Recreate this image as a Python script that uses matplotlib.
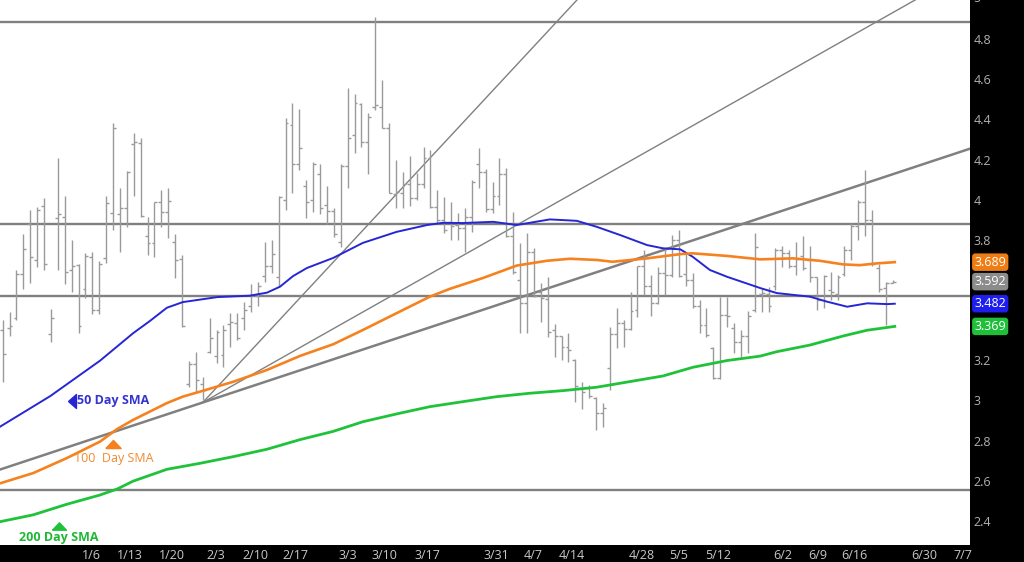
import numpy as np
import matplotlib
matplotlib.use("Agg")
from matplotlib import pyplot as plt
from matplotlib import transforms

# daily OHLC bars (bar index 0..129)
opens = [3.35, 3.36, 3.41, 3.63, 3.88, 3.70, 3.97, 3.33, 3.91, 3.915,
         3.65, 3.675, 3.555, 3.715, 3.45, 3.71, 3.935, 3.93, 3.96, 4.28,
         4.285, 3.82, 3.785, 3.99, 3.94, 3.79, 3.705, 3.08, 3.18, 3.08,
         3.24, 3.22, 3.225, 3.38, 3.385, 3.41, 3.47, 3.52, 3.62, 3.67,
         3.615, 4.00, 4.37, 4.18, 4.07, 4.00, 4.13, 3.975, 3.945, 3.79,
         4.17, 4.32, 4.476, 4.29, 4.46, 4.46, 4.357, 4.03, 4.035, 4.08,
         4.008, 4.08, 4.21, 3.965, 3.90, 3.89, 3.875, 3.86, 3.915, 4.18,
         4.14, 3.955, 4.02, 4.13, 3.82, 3.60, 3.485, 3.74, 3.54, 3.505,
         3.35, 3.32, 3.265, 3.20, 3.06, 3.06, 3.01, 2.94, 3.16, 3.33,
         3.385, 3.355, 3.45, 3.67, 3.57, 3.485, 3.635, 3.625, 3.80, 3.63,
         3.60, 3.47, 3.375, 3.26, 3.11, 3.425, 3.36, 3.29, 3.32, 3.45,
         3.53, 3.53, 3.57, 3.75, 3.735, 3.67, 3.72, 3.70, 3.615, 3.50,
         3.55, 3.53, 3.63, 3.75, 3.87, 3.99, 3.90, 3.66, 3.56, 3.585]
highs = [3.40, 3.44, 3.65, 3.83, 3.95, 3.965, 4.01, 3.455, 4.21, 4.02,
         3.80, 3.68, 3.735, 3.74, 3.695, 4.02, 4.38, 4.06, 4.145, 4.33,
         4.31, 3.915, 3.99, 4.05, 4.06, 3.83, 3.725, 3.196, 3.24, 3.117,
         3.41, 3.35, 3.375, 3.435, 3.435, 3.49, 3.58, 3.59, 3.79, 3.80,
         4.02, 4.405, 4.48, 4.45, 4.10, 4.19, 4.18, 4.07, 3.96, 4.18,
         4.555, 4.525, 4.48, 4.43, 4.91, 4.596, 4.38, 4.20, 4.14, 4.22,
         4.133, 4.262, 4.25, 4.05, 4.013, 3.99, 3.933, 3.96, 4.10, 4.257,
         4.152, 4.088, 4.207, 4.157, 3.94, 3.784, 3.834, 3.76, 3.585, 3.615,
         3.38, 3.32, 3.336, 3.206, 3.09, 3.077, 3.017, 2.987, 3.366, 3.46,
         3.40, 3.54, 3.67, 3.75, 3.625, 3.665, 3.76, 3.824, 3.85, 3.734,
         3.635, 3.50, 3.46, 3.266, 3.515, 3.515, 3.385, 3.35, 3.445, 3.834,
         3.56, 3.565, 3.76, 3.77, 3.75, 3.79, 3.82, 3.77, 3.615, 3.625,
         3.64, 3.625, 3.77, 3.885, 4.00, 4.15, 3.95, 3.68, 3.59, 3.60]
lows = [3.09, 3.32, 3.40, 3.555, 3.585, 3.665, 3.65, 3.29, 3.65, 3.58,
        3.54, 3.335, 3.51, 3.43, 3.43, 3.685, 3.85, 3.74, 3.865, 4.02,
        3.915, 3.725, 3.715, 3.865, 3.81, 3.61, 3.366, 3.067, 3.04, 3.00,
        3.236, 3.185, 3.167, 3.266, 3.30, 3.35, 3.44, 3.47, 3.59, 3.635,
        3.565, 3.95, 4.033, 4.15, 3.91, 3.94, 3.93, 3.88, 3.815, 3.765,
        4.058, 4.232, 4.262, 4.13, 4.446, 4.357, 4.033, 3.96, 3.96, 3.97,
        3.998, 4.058, 3.96, 3.88, 3.834, 3.80, 3.80, 3.74, 3.84, 4.058,
        3.94, 3.935, 3.973, 3.814, 3.63, 3.335, 3.335, 3.515, 3.39, 3.316,
        3.216, 3.20, 3.19, 2.99, 2.957, 3.012, 2.853, 2.868, 3.052, 3.26,
        3.266, 3.35, 3.415, 3.525, 3.42, 3.48, 3.525, 3.615, 3.615, 3.57,
        3.46, 3.336, 3.316, 3.107, 3.107, 3.366, 3.236, 3.216, 3.236, 3.44,
        3.44, 3.44, 3.55, 3.665, 3.66, 3.625, 3.65, 3.59, 3.45, 3.46,
        3.50, 3.50, 3.62, 3.70, 3.80, 3.82, 3.67, 3.54, 3.375, 3.585]
closes = [3.23, 3.37, 3.63, 3.755, 3.715, 3.95, 3.68, 3.41, 3.93, 3.64,
          3.67, 3.37, 3.72, 3.45, 3.68, 3.985, 4.355, 3.96, 4.14, 4.29,
          3.92, 3.785, 3.99, 3.94, 3.995, 3.70, 3.37, 3.18, 3.10, 3.05,
          3.31, 3.34, 3.35, 3.39, 3.31, 3.45, 3.525, 3.57, 3.67, 3.73,
          4.015, 4.38, 4.18, 4.26, 3.99, 4.18, 3.96, 3.945, 3.83, 4.17,
          4.31, 4.48, 4.29, 4.41, 4.47, 4.357, 4.035, 4.04, 4.08, 4.01,
          4.078, 4.21, 3.965, 3.90, 3.85, 3.87, 3.86, 3.915, 4.09, 4.14,
          3.955, 4.02, 4.13, 3.82, 3.64, 3.485, 3.74, 3.52, 3.51, 3.34,
          3.32, 3.265, 3.25, 3.07, 3.04, 3.02, 2.94, 2.96, 3.33, 3.385,
          3.355, 3.445, 3.67, 3.57, 3.485, 3.635, 3.625, 3.80, 3.62, 3.60,
          3.47, 3.375, 3.326, 3.11, 3.425, 3.42, 3.29, 3.32, 3.42, 3.765,
          3.535, 3.47, 3.75, 3.735, 3.67, 3.705, 3.66, 3.615, 3.50, 3.62,
          3.54, 3.615, 3.75, 3.87, 3.99, 3.90, 3.68, 3.555, 3.585, 3.592]

# moving averages (x in bar units)
sma50_x = [-0.4, 6.9, 14.1, 18.9, 21.3, 23.8, 26.1, 31.1, 35.8, 38.3,
           40.2, 42.1, 44.1, 47.9, 52.2, 57.1, 61.5, 63.8, 66.7, 71.1,
           74.5, 79.3, 83.2, 86.1, 89.5, 93.4, 95.7, 98.2, 100.0, 102.5,
           105.0, 109.8, 112.2, 117.0, 119.5, 122.4, 125.3, 128.2, 129.3]
sma50 = [2.869, 3.022, 3.198, 3.335, 3.395, 3.462, 3.49, 3.515, 3.522, 3.537,
         3.567, 3.62, 3.66, 3.71, 3.785, 3.84, 3.874, 3.885, 3.884, 3.89,
         3.874, 3.902, 3.895, 3.865, 3.824, 3.774, 3.758, 3.753, 3.716, 3.65,
         3.616, 3.56, 3.535, 3.517, 3.492, 3.467, 3.484, 3.48, 3.482]
sma100_x = [-0.4, 4.4, 9.3, 14.1, 16.6, 18.9, 23.8, 26.1, 28.6, 33.4,
            38.3, 43.1, 47.9, 52.2, 57.1, 61.9, 64.8, 69.6, 74.5, 78.9,
            82.2, 86.1, 88.4, 93.4, 98.2, 100.0, 105.0, 109.8, 114.5, 118.4,
            121.8, 124.2, 126.7, 129.3]
sma100 = [2.587, 2.638, 2.713, 2.795, 2.858, 2.903, 2.987, 3.019, 3.044, 3.093,
          3.152, 3.222, 3.28, 3.351, 3.435, 3.517, 3.556, 3.61, 3.672, 3.696,
          3.706, 3.70, 3.691, 3.708, 3.729, 3.733, 3.72, 3.703, 3.708, 3.696,
          3.678, 3.674, 3.683, 3.689]
sma200_x = [-0.4, 4.4, 9.3, 14.1, 16.6, 18.9, 23.8, 28.6, 33.4, 38.3,
            43.1, 47.9, 52.2, 57.1, 61.9, 66.7, 71.6, 76.4, 81.2, 86.1,
            90.9, 95.7, 100.0, 105.0, 109.8, 112.2, 117.0, 121.8, 125.3, 129.3]
sma200 = [2.396, 2.43, 2.483, 2.529, 2.559, 2.598, 2.657, 2.687, 2.72, 2.757,
          2.805, 2.846, 2.894, 2.933, 2.969, 2.994, 3.019, 3.036, 3.049, 3.066,
          3.094, 3.122, 3.165, 3.199, 3.221, 3.243, 3.276, 3.321, 3.35, 3.369]

last_price = 3.592
h_levels = [4.885, 3.879, 3.52, 2.554]

# trend lines: pivot point and slopes (price per bar)
pivot = (29.0, 2.99)
trend_slopes = [0.01137, 0.03697, 0.01942]

date_pos = [12.8, 18.4, 24.5, 30.9, 36.6, 42.4, 50.0, 55.4, 61.5, 71.5,
            76.9, 82.5, 92.6, 98.0, 103.7, 113.1, 118.2, 123.5, 133.5, 139.2]
date_labels = ['1/6', '1/13', '1/20', '2/3', '2/10', '2/17', '3/3', '3/10',
               '3/17', '3/31', '4/7', '4/14', '4/28', '5/5', '5/12', '6/2',
               '6/9', '6/16', '6/30', '7/7']
y_ticks = [2.4, 2.6, 2.8, 3.0, 3.2, 3.8, 4.0, 4.2, 4.4, 4.6, 4.8]

BLUE = '#2626d4'
ORANGE = '#f5821f'
GREEN = '#20c23a'
GREY = '#808080'
BAR = '#9a9a9a'

plt.rcParams['font.family'] = ['Open Sans', 'DejaVu Sans']

fig = plt.figure(figsize=(10.24, 5.62), dpi=100, facecolor='black')
ax = fig.add_axes([0, 17/562, 970/1024, 545/562])
ax.set_facecolor('white')
for s in ax.spines.values():
    s.set_visible(False)

xlim = (-0.39, 140.2)
ax.set_xlim(*xlim)
ax.set_ylim(2.28, 4.995)

# horizontal levels
for lv in h_levels:
    ax.axhline(lv, color=GREY, lw=1.7, zorder=2)

# trend lines
x_full = np.array(xlim)
ax.plot(x_full, pivot[1] + trend_slopes[0] * (x_full - pivot[0]),
        color=GREY, lw=1.8, zorder=2)
for sl in trend_slopes[1:]:
    xs = np.array([pivot[0], xlim[1]])
    ax.plot(xs, pivot[1] + sl * (xs - pivot[0]), color=GREY, lw=1.0, zorder=2)

# OHLC bars
idx = np.arange(len(opens))
tick = 0.42
ax.vlines(idx, lows, highs, color=BAR, lw=1.0, zorder=3)
ax.hlines(opens, idx - tick, idx, color=BAR, lw=1.0, zorder=3)
ax.hlines(closes, idx, idx + tick, color=BAR, lw=1.0, zorder=3)

# moving averages
ax.plot(sma50_x, sma50, color=BLUE, lw=1.4, zorder=4)
ax.plot(sma100_x, sma100, color=ORANGE, lw=1.9, zorder=4)
ax.plot(sma200_x, sma200, color=GREEN, lw=2.0, zorder=4)

# labels for the averages
left_tri = [(-0.57, 0), (0.57, 1), (0.57, -1), (-0.57, 0)]
up_tri = [(-1, -0.53), (1, -0.53), (0, 0.53), (-1, -0.53)]
ax.plot([10.1], [2.998], marker=left_tri, ms=10, color=BLUE, zorder=5)
ax.text(10.75, 2.998, '50 Day SMA', color='#3434d0', fontsize=9,
        fontweight='bold', va='center', ha='left', zorder=5)
ax.plot([16.0], [2.783], marker=up_tri, ms=11, color=ORANGE, zorder=5)
ax.text(16.06, 2.713, '100  Day SMA', color='#f0892e', fontsize=9,
        va='center', ha='center', zorder=5)
ax.plot([8.15], [2.377], marker=up_tri, ms=10, color=GREEN, zorder=5)
ax.text(8.09, 2.315, '200 Day SMA', color='#1fb836', fontsize=9,
        fontweight='bold', va='center', ha='center', zorder=5)

# axes ticks
ax.yaxis.tick_right()
ax.set_yticks(y_ticks)
ax.set_yticklabels(['%g' % v for v in y_ticks])
ax.tick_params(axis='y', length=0, pad=2.5, labelsize=9, labelcolor='#b0b0b0')
ax.set_xticks(date_pos)
ax.set_xticklabels(date_labels)
ax.tick_params(axis='x', length=0, pad=3, labelsize=9, labelcolor='#c8c8c8')
trans = transforms.blended_transform_factory(ax.transAxes, ax.transData)
ax.text(1.0035, 5.0, '5', transform=trans, color='#b0b0b0', fontsize=9,
        va='center', ha='left', clip_on=False)

# value boxes on the price scale
for val, col in [(sma100[-1], '#f07d14'), (last_price, '#8c8c8c'),
                 (sma50[-1], '#1e1eef'), (sma200[-1], '#1fbf3a')]:
    ax.text(1.0045, val, '%.3f' % val, transform=trans, color='white',
            fontsize=9, va='center', ha='left', clip_on=False, zorder=10,
            bbox=dict(boxstyle='round,pad=0.18,rounding_size=0.25',
                      fc=col, ec='none'))

fig.savefig('out.png', dpi=100, facecolor='black')
